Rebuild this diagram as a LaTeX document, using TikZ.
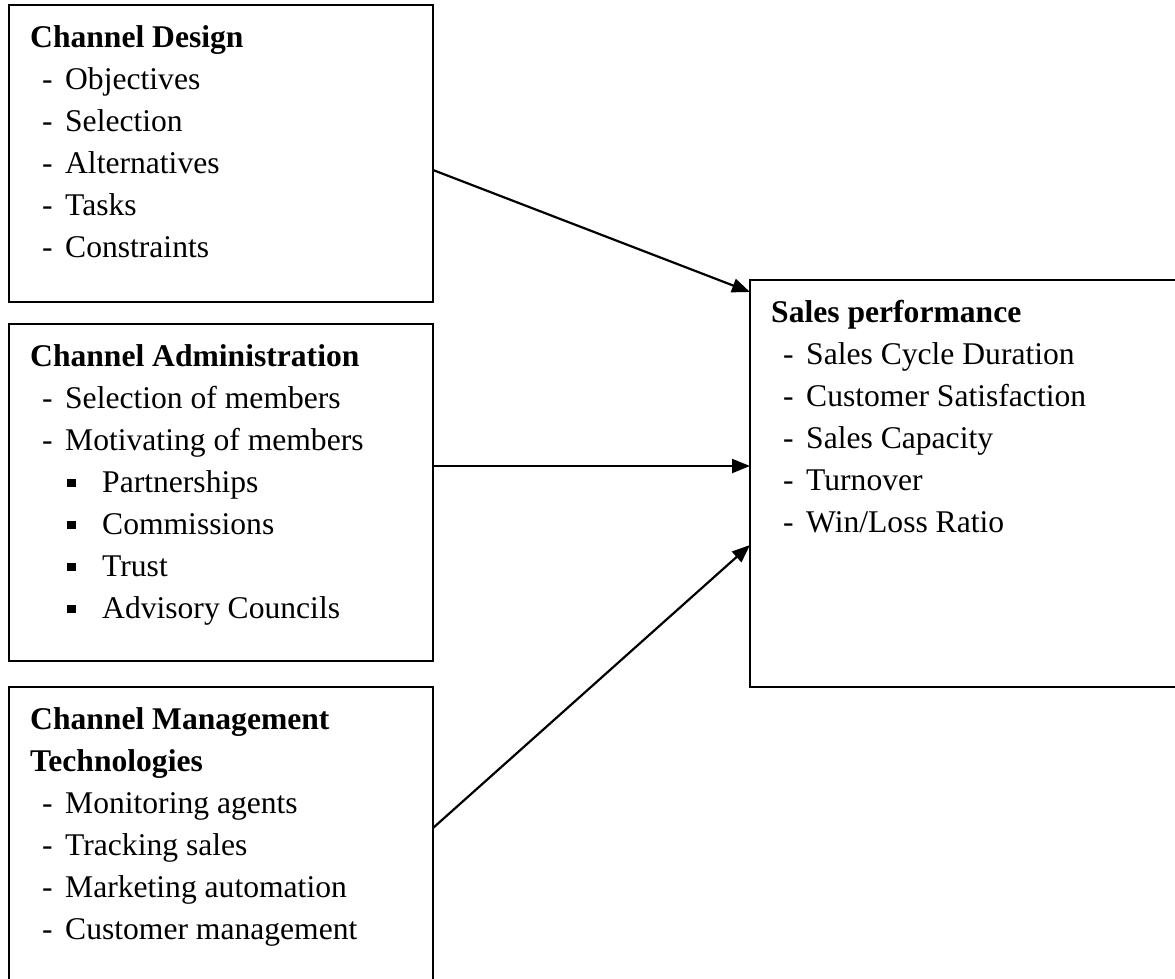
\documentclass[tikz,border=0pt]{standalone}
\usepackage{fontspec}
\setmainfont{Liberation Serif}
\usetikzlibrary{arrows.meta}

% list entries: a dash item and a square-bullet sub-item
\newcommand{\dashitem}[1]{\makebox[35pt][l]{\hspace*{12pt}-}#1}
\newcommand{\sqitem}[1]{\makebox[72pt][l]{\hspace*{37pt}\raisebox{5pt}{\rule{8.5pt}{8.5pt}}}#1}

\tikzset{
  frame/.style={draw=black, line width=2.2pt},
  boxtext/.style={anchor=base west, inner sep=0pt,
    font=\fontsize{31.6}{42}\selectfont},
  link/.style={draw=black, line width=2.2pt, -{Triangle[length=18pt,width=14pt]}},
}

\begin{document}
\begin{tikzpicture}[x=1pt,y=-1pt]
  \useasboundingbox (0,0) rectangle (1175,978);
  \clip (0,0) rectangle (1175,978);

  % left column of boxes
  \path[frame] (9,5) rectangle (433,302);
  \path[frame] (9,324) rectangle (433,661);
  \path[frame] (9,687) rectangle (433,1000);
  % result box on the right
  \path[frame] (750,280) rectangle (1200,687);

  \node[boxtext] (design) at (30,47) {\parbox[t]{400pt}{%
    \textbf{Channel Design}\\
    \dashitem{Objectives}\\
    \dashitem{Selection}\\
    \dashitem{Alternatives}\\
    \dashitem{Tasks}\\
    \dashitem{Constraints}}};

  \node[boxtext] (admin) at (30,366) {\parbox[t]{400pt}{%
    \textbf{Channel Administration}\\
    \dashitem{Selection of members}\\
    \dashitem{Motivating of members}\\
    \sqitem{Partnerships}\\
    \sqitem{Commissions}\\
    \sqitem{Trust}\\
    \sqitem{Advisory Councils}}};

  \node[boxtext] (tech) at (30,729) {\parbox[t]{400pt}{%
    \textbf{Channel Management}\\
    \textbf{Technologies}\\
    \dashitem{Monitoring agents}\\
    \dashitem{Tracking sales}\\
    \dashitem{Marketing automation}\\
    \dashitem{Customer management}}};

  \node[boxtext] (sales) at (771,322) {\parbox[t]{400pt}{%
    \textbf{Sales performance}\\
    \dashitem{Sales Cycle Duration}\\
    \dashitem{Customer Satisfaction}\\
    \dashitem{Sales Capacity}\\
    \dashitem{Turnover}\\
    \dashitem{Win/Loss Ratio}}};

  % arrow anchor points on the box edges
  \coordinate (o1) at (433,170);
  \coordinate (o2) at (433,466);
  \coordinate (o3) at (433,828);
  \coordinate (t1) at (750,292);
  \coordinate (t2) at (750,466);
  \coordinate (t3) at (750,545);

  \draw[link] (o1) -- (t1);
  \draw[link] (o2) -- (t2);
  \draw[link] (o3) -- (t3);
\end{tikzpicture}
\end{document}
